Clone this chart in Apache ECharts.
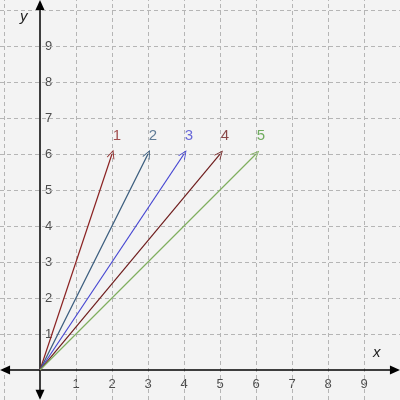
<!DOCTYPE html>
<html>
<head>
<meta charset="utf-8">
<script src="https://cdn.jsdelivr.net/npm/echarts@6/dist/echarts.min.js"></script>
<style>
  html, body { margin: 0; padding: 0; background: #f3f3f3; }
  #chart { width: 400px; height: 400px; }
</style>
</head>
<body>
<div id="chart"></div>
<script>
// vectors from origin, end points
var vecNames = ['1', '2', '3', '4', '5']
var vecEndX = [2, 3, 4, 5, 6]
var vecEndY = [6, 6, 6, 6, 6]
var vecColors = ['#8b2323', '#3a5d7e', '#4646d2', '#6e1c1c', '#7fae5f']
var labelColors = ['#8b2323', '#3a5d7e', '#4646d2', '#6e1c1c', '#4f9a3a']

// tick labels shown on each axis
var xTicks = [1, 2, 3, 4, 5, 6, 7, 8, 9]
var yTicks = [1, 2, 3, 4, 5, 6, 7, 8, 9]

// dashed grid lines
var gridX = [-1, 1, 2, 3, 4, 5, 6, 7, 8, 9]
var gridY = [1, 2, 3, 4, 5, 6, 7, 8, 9, 10]

// visible window and where the axis arrows sit (data units)
var xRange = [-1.111, 10]
var yRange = [-0.833, 10.278]
var xAxisEnds = [-0.97, 9.86]
var yAxisEnds = [-0.69, 10.14]

var chart = echarts.init(document.getElementById('chart'))

var font = 'Liberation Sans, Arial, sans-serif'

// open arrow head, tip at the top
var openArrow = 'path://M0,0 L-5,10 L-3.8,10 L0,2.2 L3.8,10 L5,10 Z'

var series = []

// grid
series.push({
    type: 'line',
    data: [],
    silent: true,
    z: 1,
    markLine: {
        silent: true,
        animation: false,
        symbol: ['none', 'none'],
        label: { show: false },
        lineStyle: { color: '#b5b5b5', width: 1, type: [4, 3] },
        data: gridX.map(function (v) { return { xAxis: v } })
            .concat(gridY.map(function (v) { return { yAxis: v } }))
    }
})

// axes with arrows
series.push({
    type: 'line',
    data: [],
    silent: true,
    z: 3,
    markLine: {
        silent: true,
        animation: false,
        symbol: ['triangle', 'triangle'],
        symbolSize: [9, 10],
        label: { show: false },
        lineStyle: { color: '#000', width: 1.5, type: 'solid' },
        data: [
            [{ coord: [xAxisEnds[0], 0] }, { coord: [xAxisEnds[1], 0] }],
            [{ coord: [0, yAxisEnds[0]] }, { coord: [0, yAxisEnds[1]] }]
        ]
    }
})

// tick labels
series.push({
    type: 'scatter',
    silent: true,
    symbolSize: 0,
    data: xTicks.map(function (v) { return [v, 0] }),
    label: {
        show: true, position: 'bottom', distance: 8,
        formatter: function (p) { return String(p.value[0]) },
        color: '#222', fontSize: 13, fontFamily: font
    }
})
series.push({
    type: 'scatter',
    silent: true,
    symbolSize: 0,
    data: yTicks.map(function (v) { return [0, v] }),
    label: {
        show: true, position: 'right', distance: 5,
        formatter: function (p) { return String(p.value[1]) },
        color: '#222', fontSize: 13, fontFamily: font
    }
})

vecNames.forEach(function (n, i) {
    series.push({
        type: 'line',
        data: [],
        silent: true,
        z: 4,
        markLine: {
            silent: true,
            animation: false,
            symbol: ['none', openArrow],
            symbolSize: [8, 9],
            label: { show: false },
            lineStyle: { color: vecColors[i], width: 1.2, type: 'solid' },
            data: [[{ coord: [0, 0] }, { coord: [vecEndX[i], vecEndY[i]] }]]
        }
    })
    series.push({
        type: 'scatter',
        silent: true,
        symbolSize: 0,
        data: [{ name: n, value: [vecEndX[i], vecEndY[i]] }],
        label: {
            show: true,
            position: 'top',
            offset: [5, -6],
            formatter: '{b}',
            color: labelColors[i],
            fontSize: 15,
            fontFamily: font
        }
    })
})

var option = {
    backgroundColor: '#f3f3f3',
    animation: false,
    grid: { left: 0, right: 0, top: 0, bottom: 0, containLabel: false, outerBoundsMode: 'none' },
    xAxis: {
        type: 'value',
        min: xRange[0],
        max: xRange[1],
        axisLine: { show: false },
        axisTick: { show: false },
        splitLine: { show: false },
        axisLabel: { show: false }
    },
    yAxis: {
        type: 'value',
        min: yRange[0],
        max: yRange[1],
        axisLine: { show: false },
        axisTick: { show: false },
        splitLine: { show: false },
        axisLabel: { show: false }
    },
    graphic: [
        { type: 'text', left: 20, top: 9, style: { text: 'y', fill: '#222', font: 'italic 15px ' + font } },
        { type: 'text', left: 373, top: 345, style: { text: 'x', fill: '#222', font: 'italic 15px ' + font } }
    ],
    series: series
}

chart.setOption(option)
</script>
</body>
</html>
